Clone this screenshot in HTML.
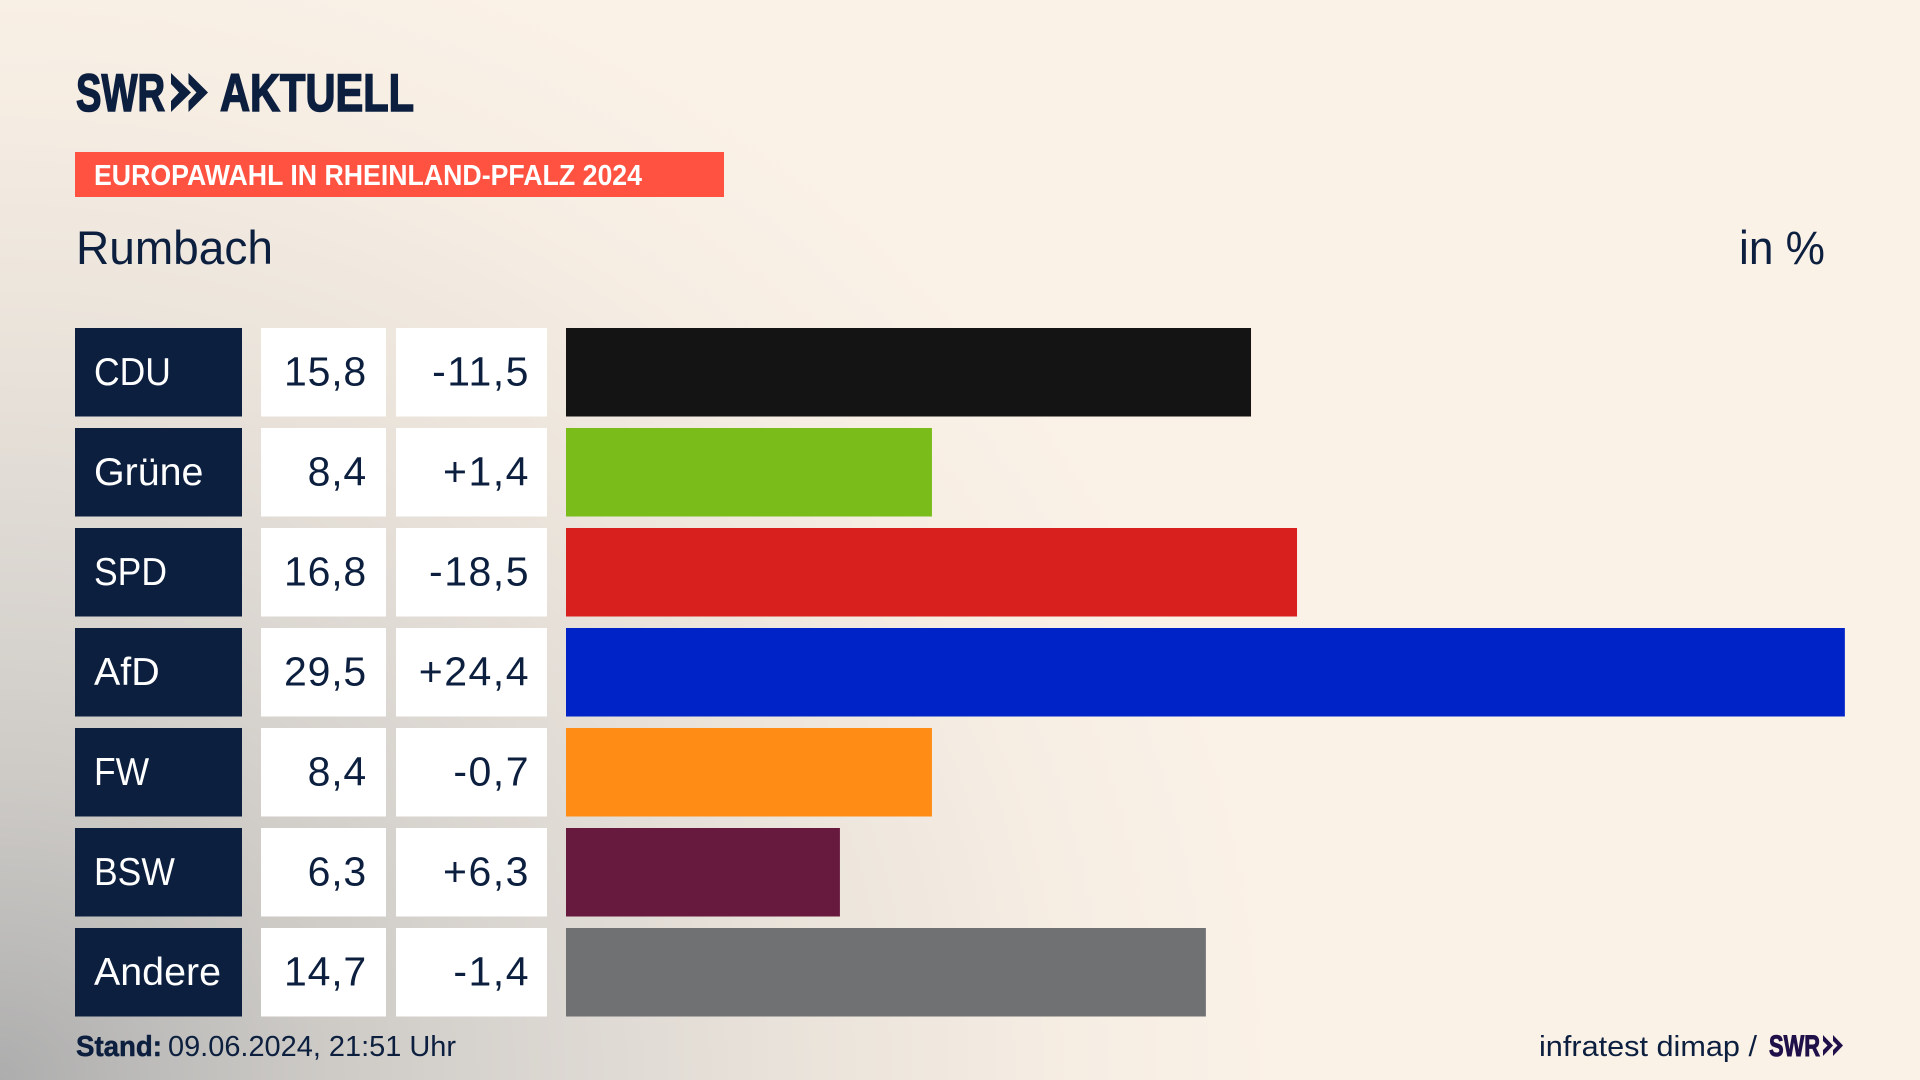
<!DOCTYPE html>
<html lang="de">
<head>
<meta charset="utf-8">
<title>Europawahl in Rheinland-Pfalz 2024 – Rumbach</title>
<style>
html,body{margin:0;padding:0;width:1920px;height:1080px;overflow:hidden;background:#faf1e7}
#stage{position:absolute;left:0;top:0;width:1920px;height:1080px;
background:radial-gradient(ellipse 1280px 1180px at 0px 1080px,#adadad 0%,#bdbcba 12%,#cdcac6 25%,#dfdad4 48%,#ece5dc 66%,#f6ede3 84%,#faf1e7 100%)}
svg{position:absolute;left:0;top:0}
text{font-family:"Liberation Sans",sans-serif;fill:#0c1f3f}
</style>
</head>
<body>
<div id="stage">
<svg id="chart" width="1920" height="1080" viewBox="0 0 1920 1080">
  <g>
    <text x="76" y="111" font-size="53" font-weight="700" stroke="#0c1f3f" stroke-width="1.6" textLength="89" lengthAdjust="spacingAndGlyphs">SWR</text>
    <path d="M171 73L191 92.500L171 112L171 101L179 92.500L171 84ZM188.500 73L208 92.500L188.500 112L188.500 101L196.500 92.500L188.500 84Z" fill="#0c1f3f"/>
    <text x="220" y="111" font-size="53" font-weight="700" stroke="#0c1f3f" stroke-width="1.6" textLength="194" lengthAdjust="spacingAndGlyphs">AKTUELL</text>
  </g>
  <rect x="75" y="152" width="649" height="45" fill="#ff5240"/>
  <text x="94" y="185" font-size="29" font-weight="700" style="fill:#fff" textLength="548" lengthAdjust="spacingAndGlyphs">EUROPAWAHL IN RHEINLAND-PFALZ 2024</text>
  <text x="76" y="264" font-size="47" textLength="197" lengthAdjust="spacingAndGlyphs">Rumbach</text>
  <text x="1739" y="264" font-size="47" textLength="86" lengthAdjust="spacingAndGlyphs">in %</text>
  <g id="rows"></g>
  <text x="76" y="1056" font-size="29" font-weight="700" stroke="#0c1f3f" stroke-width="0.5" textLength="86" lengthAdjust="spacingAndGlyphs">Stand:</text>
  <text x="168" y="1056" font-size="29" textLength="288" lengthAdjust="spacingAndGlyphs">09.06.2024, 21:51 Uhr</text>
  <text x="1539" y="1056" font-size="29" textLength="218" lengthAdjust="spacingAndGlyphs">infratest dimap /</text>
  <text x="1769" y="1056" font-size="30" font-weight="700" stroke="#20104a" stroke-width="1" style="fill:#20104a" textLength="51" lengthAdjust="spacingAndGlyphs">SWR</text>
  <path d="M1823 1035L1833 1045.500L1823 1056L1823 1050L1827.500 1045.500L1823 1041ZM1833 1035L1843 1045.500L1833 1056L1833 1050L1837.500 1045.500L1833 1041Z" fill="#20104a"/>
</svg>
</div>
<script>
const parties = ["CDU", "Grüne", "SPD", "AfD", "FW", "BSW", "Andere"];
const shares = [15.78, 8.43, 16.84, 29.46, 8.43, 6.31, 14.74];
const changes = [-11.5, 1.4, -18.5, 24.4, -0.7, 6.3, -1.4];

const partyColors = {CDU:"#141414","Grüne":"#7abd1a",SPD:"#d8201f",AfD:"#0023c8",FW:"#ff8d15",BSW:"#671a3e",Andere:"#707173"};

const NS = "http://www.w3.org/2000/svg";
const rowsGroup = document.getElementById("rows");
function xScale(v){ return 43.41 * v; }
function yScale(i){ return 328 + 100 * i; }
function fmt(v){ return v.toFixed(1).replace(".", ","); }
function fmtChange(v){ return (v > 0 ? "+" : "") + fmt(v); }
function makeRect(x, y, w, h, fill){
  const r = document.createElementNS(NS, "rect");
  r.setAttribute("x", x);
  r.setAttribute("y", y);
  r.setAttribute("width", w);
  r.setAttribute("height", h);
  r.setAttribute("fill", fill);
  return r;
}
function makeText(x, y, str, anchor){
  const t = document.createElementNS(NS, "text");
  t.setAttribute("x", x);
  t.setAttribute("y", y);
  t.setAttribute("font-size", 41);
  t.setAttribute("text-anchor", anchor);
  t.textContent = str;
  return t;
}
parties.forEach(function(p, i){
  const y = yScale(i);
  const h = 88.5;
  const slug = p.toLowerCase().replace("ü", "ue");

  const tag = makeRect(75, y, 167, h, "#0c1f3f");
  
  
  rowsGroup.appendChild(tag);

  const label = makeText(0, 0, p, "start");
  const sx = p === p.toUpperCase() ? 0.91 : 1.01;
  label.setAttribute("transform", "translate(94 " + (y + 57) + ") scale(" + sx + " 1)");
  label.setAttribute("font-size", 39);
  label.style.fill = "#fff";
  
  
  rowsGroup.appendChild(label);

  const shareBox = makeRect(261, y, 125, h, "#fff");
  
  
  rowsGroup.appendChild(shareBox);

  const shareText = makeText(367, y + 57.5, fmt(shares[i]), "end");
  shareText.setAttribute("letter-spacing", "0.8");
  
  
  rowsGroup.appendChild(shareText);

  const changeBox = makeRect(396, y, 151, h, "#fff");
  
  
  rowsGroup.appendChild(changeBox);

  const changeText = makeText(530, y + 57.5, fmtChange(changes[i]), "end");
  changeText.setAttribute("letter-spacing", "1.5");
  
  
  rowsGroup.appendChild(changeText);

  const bar = makeRect(566, y, xScale(shares[i]), h, partyColors[p]);
  
  
  rowsGroup.appendChild(bar);
});
</script>
</body>
</html>
